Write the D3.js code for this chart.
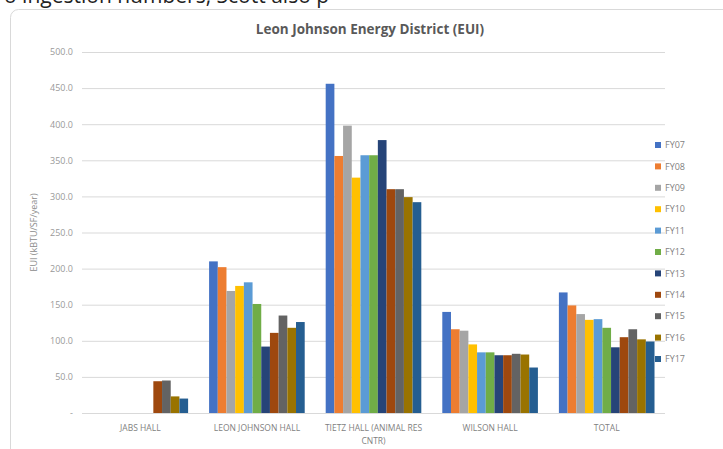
<!DOCTYPE html>
<html>
<head>
<meta charset="utf-8">
<title>Leon Johnson Energy District (EUI)</title>
<script src="https://cdn.jsdelivr.net/npm/d3@7/dist/d3.min.js"></script>
<style>
  body { margin: 0; background: #fff; font-family: "Open Sans", "Liberation Sans", sans-serif; }
  svg { display: block; }
</style>
</head>
<body>
<div id="chart"></div>
<script>
// data
const categories = ["JABS HALL", "LEON JOHNSON HALL", "TIETZ HALL (ANIMAL RES CNTR)", "WILSON HALL", "TOTAL"];
const years = ["FY07", "FY08", "FY09", "FY10", "FY11", "FY12", "FY13", "FY14", "FY15", "FY16", "FY17"];

const jabsHall     = [0, 0, 0, 0, 0, 0, 0, 44, 45, 23, 20];
const leonJohnson  = [210, 202, 169, 176, 181, 151, 92, 111, 135, 118, 126];
const tietzHall    = [456, 356, 398, 326, 357, 357, 378, 310, 310, 299, 292];
const wilsonHall   = [140, 116, 114, 95, 84, 84, 80, 80, 82, 81, 63];
const total        = [167, 149, 137, 129, 130, 118, 91, 105, 116, 102, 99];

const yTicks = [0, 50, 100, 150, 200, 250, 300, 350, 400, 450, 500];

const colors = ["#4472C4", "#ED7D31", "#A5A5A5", "#FFC000", "#5B9BD5", "#70AD47",
                "#264478", "#9E480E", "#636363", "#997300", "#255E91"];

const seriesByCat = [jabsHall, leonJohnson, tietzHall, wilsonHall, total];

const W = 723, H = 449;
const plot = { left: 82, right: 665, top: 52, bottom: 413 };

const svg = d3.select("#chart").append("svg")
    .attr("width", W)
    .attr("height", H);

// bit of the page text above the chart, cut off by the crop
svg.append("text")
    .attr("x", 4)
    .attr("y", 3)
    .style("font-size", "21px")
    .style("fill", "#222")
    .text("o ingestion numbers, Scott also p");

// chart frame
svg.append("rect")
    .attr("x", 10.5).attr("y", 9.5)
    .attr("width", 730).attr("height", 460)
    .attr("rx", 8)
    .style("fill", "#fff")
    .style("stroke", "#d9d9d9");

svg.append("text")
    .attr("x", 370).attr("y", 34)
    .attr("text-anchor", "middle")
    .style("font-size", "13.5px")
    .style("font-weight", "bold")
    .style("fill", "#595959")
    .text("Leon Johnson Energy District (EUI)");

const y = d3.scaleLinear().domain([0, 500]).range([plot.bottom, plot.top]);

const x0 = d3.scaleBand()
    .domain(categories)
    .range([plot.left, plot.right])
    .paddingInner(0.18)
    .paddingOuter(0.09);

const x1 = d3.scaleBand()
    .domain(years)
    .range([0, x0.bandwidth()])
    .padding(0);

// y axis with gridlines
const yAxis = d3.axisLeft(y)
    .tickValues(yTicks)
    .tickSize(-(plot.right - plot.left))
    .tickPadding(9)
    .tickFormat(d => d === 0 ? "-" : d3.format(".1f")(d));

const gy = svg.append("g")
    .attr("transform", "translate(" + plot.left + ",0)")
    .call(yAxis);
gy.select(".domain").remove();
gy.selectAll("line").style("stroke", "#d9d9d9");
gy.selectAll("text")
    .style("font-size", "9px")
    .style("fill", "#999")
    .style("font-family", "'Open Sans', sans-serif");

svg.append("text")
    .attr("transform", "translate(37," + ((plot.top + plot.bottom) / 2) + ") rotate(-90)")
    .attr("text-anchor", "middle")
    .style("font-size", "9px")
    .style("fill", "#8c8c8c")
    .text("EUI (kBTU/SF/year)");

// bars
const groups = svg.selectAll("g.cat")
    .data(categories).enter()
    .append("g")
    .attr("class", "cat")
    .attr("transform", d => "translate(" + x0(d) + ",0)");

groups.selectAll("rect")
    .data((d, i) => seriesByCat[i].map((v, j) => ({ year: years[j], value: v, color: colors[j] })))
    .enter().append("rect")
    .attr("x", d => x1(d.year))
    .attr("y", d => y(d.value))
    .attr("width", x1.bandwidth())
    .attr("height", d => y(0) - y(d.value))
    .style("fill", d => d.color);

// category labels (x axis)
const xAxis = d3.axisBottom(x0).tickSize(0).tickPadding(12);
const gx = svg.append("g")
    .attr("transform", "translate(0," + plot.bottom + ")")
    .call(xAxis);
gx.select(".domain").remove();
gx.selectAll("text")
    .style("font-size", "8.5px")
    .style("fill", "#7f7f7f")
    .style("font-family", "'Open Sans', sans-serif")
    .each(function (d) {
      if (d.startsWith("TIETZ")) {
        const t = d3.select(this).text(null);
        t.append("tspan").attr("x", 0).attr("dy", "0.71em").text("TIETZ HALL (ANIMAL RES");
        t.append("tspan").attr("x", 0).attr("dy", "1.5em").text("CNTR)");
        t.attr("dy", null);
      }
    });

// legend
const legend = svg.selectAll("g.legend")
    .data(years).enter()
    .append("g")
    .attr("class", "legend")
    .attr("transform", (d, i) => "translate(655," + (145 + i * 21.4) + ")");

legend.append("rect")
    .attr("x", 0).attr("y", -3)
    .attr("width", 6).attr("height", 6)
    .style("fill", (d, i) => colors[i]);

legend.append("text")
    .attr("x", 10).attr("y", 0)
    .attr("dy", "0.35em")
    .style("font-size", "9px")
    .style("fill", "#7f7f7f")
    .text(d => d);
</script>
</body>
</html>
